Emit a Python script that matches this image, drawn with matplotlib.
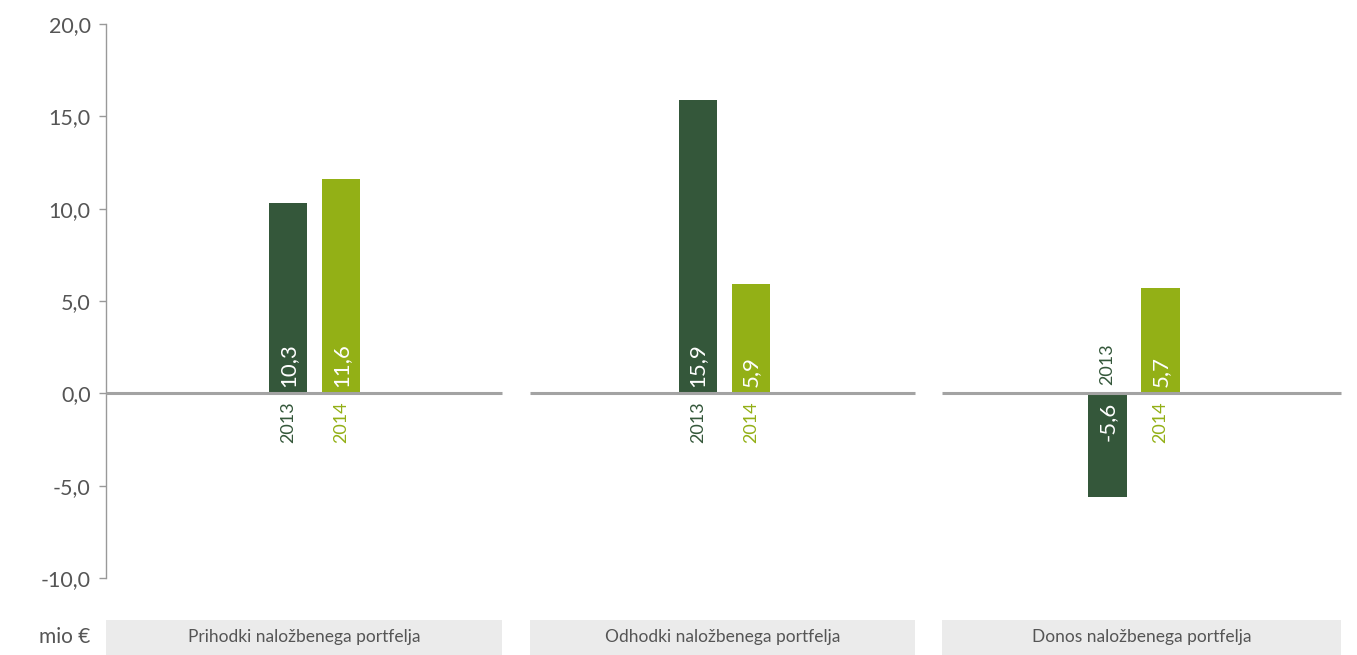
import matplotlib.pyplot as plt
import matplotlib.patches as mpatches
import numpy as np

plt.rcParams['font.family'] = ['Lato', 'DejaVu Sans']

categories = ['Prihodki naložbenega portfelja',
              'Odhodki naložbenega portfelja',
              'Donos naložbenega portfelja']
years = ['2013', '2014']
values_2013 = [10.3, 15.9, -5.6]
values_2014 = [11.6, 5.9, 5.7]
yticks = [-10, -5, 0, 5, 10, 15, 20]

dark = '#34573a'
light = '#93b016'
grey_txt = '#555555'

# x extent of each category panel (zero line and label box), in group units
panels = [(-0.51, 0.458), (0.526, 1.466), (1.531, 2.505)]
bar_w = 0.093
offset = 0.0647

fig = plt.figure(figsize=(13.57, 6.55), dpi=100)
ax = fig.add_axes([0.0781, 0.1176, 0.9131, 0.8458])

x = np.arange(len(categories))
series = [(values_2013, dark, -offset), (values_2014, light, offset)]

for vals, col, off in series:
    ax.bar(x + off, vals, width=bar_w, color=col, zorder=2)

for (vals, col, off), yr in zip(series, years):
    for xi, v in zip(x, vals):
        lbl = f'{v:.1f}'.replace('.', ',')
        if v >= 0:
            ax.text(xi + off, 0.35, lbl, rotation=90, ha='center', va='bottom',
                    color='white', fontsize=16, zorder=3)
            ax.text(xi + off, -0.45, yr, rotation=90, ha='center', va='top',
                    color=col, fontsize=13)
        else:
            ax.text(xi + off, -0.45, lbl, rotation=90, ha='center', va='top',
                    color='white', fontsize=16, zorder=3)
            ax.text(xi + off, 0.45, yr, rotation=90, ha='center', va='bottom',
                    color=col, fontsize=13)

# zero line per panel, label boxes underneath
for (x0, x1), name in zip(panels, categories):
    ax.plot([x0, x1], [0, 0], color='#a3a3a3', lw=2.2, zorder=4,
            solid_capstyle='butt', clip_on=False)
    ax.add_patch(mpatches.Rectangle((x0, -14.2), x1 - x0, 1.95,
                                    facecolor='#ebebeb', edgecolor='none',
                                    clip_on=False))
    ax.text((x0 + x1) / 2, -13.22, name, ha='center', va='center',
            color=grey_txt, fontsize=12.5)

ax.text(-0.548, -13.22, 'mio €', ha='right', va='center', color=grey_txt,
        fontsize=15)

ax.set_xlim(-0.509, 2.515)
ax.set_ylim(-10, 20)
ax.set_yticks(yticks)
ax.set_yticklabels([f'{t:.1f}'.replace('.', ',') for t in yticks])
ax.set_xticks([])
for s in ['top', 'right', 'bottom']:
    ax.spines[s].set_visible(False)
ax.spines['left'].set_color('#999999')
ax.spines['left'].set_linewidth(1)
ax.tick_params(axis='y', length=5, width=1, color='#999999', colors=grey_txt,
               labelsize=15.5, pad=6)

fig.savefig('out.png', dpi=100)
